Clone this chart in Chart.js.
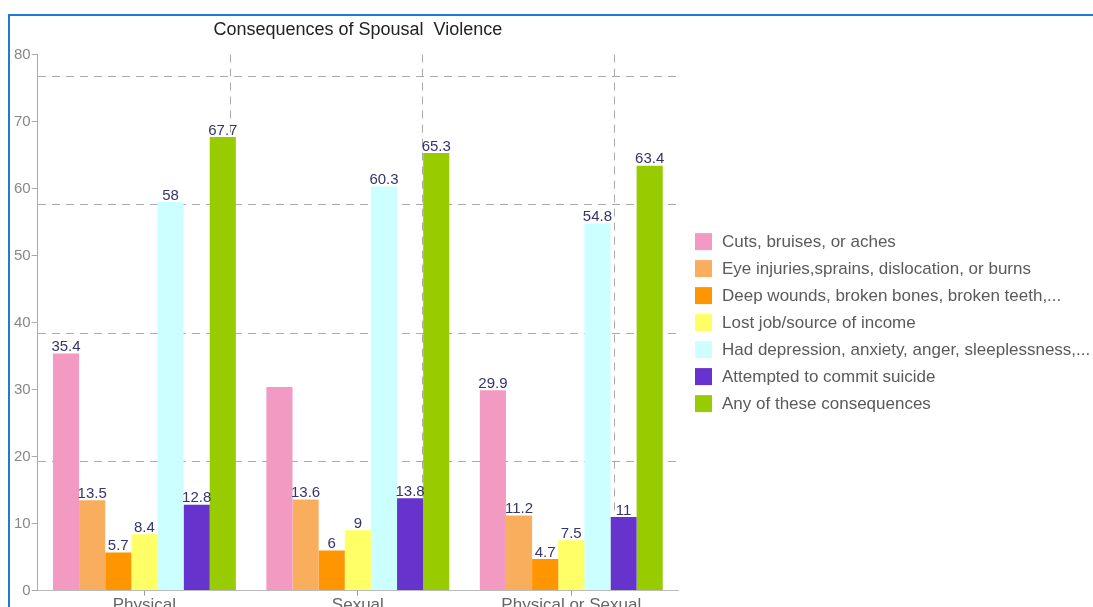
<!DOCTYPE html>
<html>
<head>
<meta charset="utf-8">
<script src="https://cdn.jsdelivr.net/npm/chart.js@4/dist/chart.umd.min.js"></script>
<style>
  html, body { margin: 0; padding: 0; background: #fff; overflow: hidden; }
  #frame {
    position: absolute; left: 8px; top: 14px;
    width: 1085px; height: 640px;
    border-top: 2px solid #1b7cd4; border-left: 2px solid #1b7cd4;
  }
  #wrap { position: relative; width: 1083px; height: 600px; }
</style>
</head>
<body>
<div id="frame"><div id="wrap"><canvas id="chart"></canvas></div></div>
<script>
const categories = ["Physical", "Sexual", "Physical or Sexual"];

const cuts       = [35.4, 30.4, 29.9];
const eyeInjury  = [13.5, 13.6, 11.2];
const deepWounds = [5.7, 6, 4.7];
const lostJob    = [8.4, 9, 7.5];
const depression = [58, 60.3, 54.8];
const suicide    = [12.8, 13.8, 11];
const anyOfThese = [67.7, 65.3, 63.4];

const seriesNames = [
    "Cuts, bruises, or aches",
    "Eye injuries,sprains, dislocation, or burns",
    "Deep wounds, broken bones, broken teeth,...",
    "Lost job/source of income",
    "Had depression, anxiety, anger, sleeplessness,...",
    "Attempted to commit suicide",
    "Any of these consequences"
];
const seriesColors = ["#f39ac2", "#f9ae5d", "#ff9500", "#ffff66", "#ccffff", "#6633cc", "#99cc00"];

// value labels not printed in the original: [series, category]
const noLabel = [[0, 1]];

// dashed grid positions (value units / fraction of plot width)
const hGrid = [19.2, 38.4, 57.6, 76.8];
const vGrid = [0.301, 0.6, 0.9];

const seriesData = [cuts, eyeInjury, deepWounds, lostJob, depression, suicide, anyOfThese];

const FONT = '"Liberation Sans", Arial, sans-serif';

// vertical dashed lines, placed as a fraction of the plot width
const vLines = {
    id: 'vLines',
    beforeDatasetsDraw(chart) {
        const ctx = chart.ctx;
        const a = chart.chartArea;
        ctx.save();
        ctx.strokeStyle = '#aaa';
        ctx.lineWidth = 1;
        ctx.setLineDash([8, 6]);
        vGrid.forEach(f => {
            const x = Math.round(a.left + f * (a.right - a.left)) + 0.5;
            ctx.beginPath();
            ctx.moveTo(x, a.top);
            ctx.lineTo(x, a.bottom);
            ctx.stroke();
        });
        ctx.restore();
    }
};

const valueLabels = {
    id: 'valueLabels',
    afterDatasetsDraw(chart) {
        const ctx = chart.ctx;
        ctx.save();
        ctx.font = '15px ' + FONT;
        ctx.fillStyle = '#34346e';
        ctx.textAlign = 'center';
        ctx.textBaseline = 'bottom';
        chart.data.datasets.forEach((ds, i) => {
            const meta = chart.getDatasetMeta(i);
            meta.data.forEach((bar, j) => {
                if (noLabel.some(p => p[0] === i && p[1] === j)) return;
                ctx.fillText(String(ds.data[j]), bar.x, bar.y + 1);
            });
        });
        ctx.restore();
    }
};

// chart.js caps a right legend at a fraction of the width, so draw it here
// in the space kept free by layout.padding.right
const sideLegend = {
    id: 'sideLegend',
    afterDraw(chart) {
        const ctx = chart.ctx;
        const area = chart.chartArea;
        const rowH = 27, box = 17;
        const n = chart.data.datasets.length;
        let y = (area.top + area.bottom) / 2 - (n - 1) / 2 * rowH;
        const x = area.right + 17;
        ctx.save();
        ctx.font = '17px ' + FONT;
        ctx.textBaseline = 'middle';
        chart.data.datasets.forEach(ds => {
            ctx.fillStyle = ds.backgroundColor;
            ctx.fillRect(x, y - box / 2, box, box);
            ctx.fillStyle = '#5a5a5a';
            ctx.fillText(ds.label, x + box + 10, y + 1);
            y += rowH;
        });
        ctx.restore();
    }
};

Chart.defaults.font.family = FONT;

new Chart(document.getElementById('chart'), {
    type: 'bar',
    data: {
        labels: categories,
        datasets: seriesData.map((d, i) => ({
            label: seriesNames[i],
            data: d,
            backgroundColor: seriesColors[i],
            borderWidth: 0,
            barPercentage: 1,
            categoryPercentage: 0.857
        }))
    },
    options: {
        responsive: true,
        maintainAspectRatio: false,
        animation: false,
        layout: { padding: { top: 3, bottom: 0, left: 3, right: 415 } },
        plugins: {
            title: {
                display: true,
                text: 'Consequences of Spousal  Violence',
                fullSize: false,
                color: '#222',
                font: { size: 18, weight: 'normal' },
                padding: { top: 0, bottom: 14 }
            },
            legend: { display: false },
            tooltip: { enabled: false }
        },
        scales: {
            x: {
                grid: { offset: false, drawOnChartArea: false, tickLength: 5, color: '#999' },
                border: { color: '#bbb' },
                ticks: { color: '#666', font: { size: 17 }, padding: 0 }
            },
            y: {
                min: 0,
                max: 80,
                ticks: { stepSize: 10, color: '#888', font: { size: 15 }, padding: 1 },
                grid: { drawOnChartArea: false, tickLength: 6, color: '#aaa' },
                border: { color: '#aaa', dash: [6, 4] }
            },
            yGrid: {
                position: 'left',
                min: 0,
                max: 80,
                afterBuildTicks: s => { s.ticks = hGrid.map(v => ({ value: v })); },
                ticks: { display: false },
                grid: { color: '#aaa', drawTicks: false, tickLength: 0 },
                border: { display: false, dash: [8, 6] }
            }
        }
    },
    plugins: [vLines, valueLabels, sideLegend]
});
</script>
</body>
</html>
